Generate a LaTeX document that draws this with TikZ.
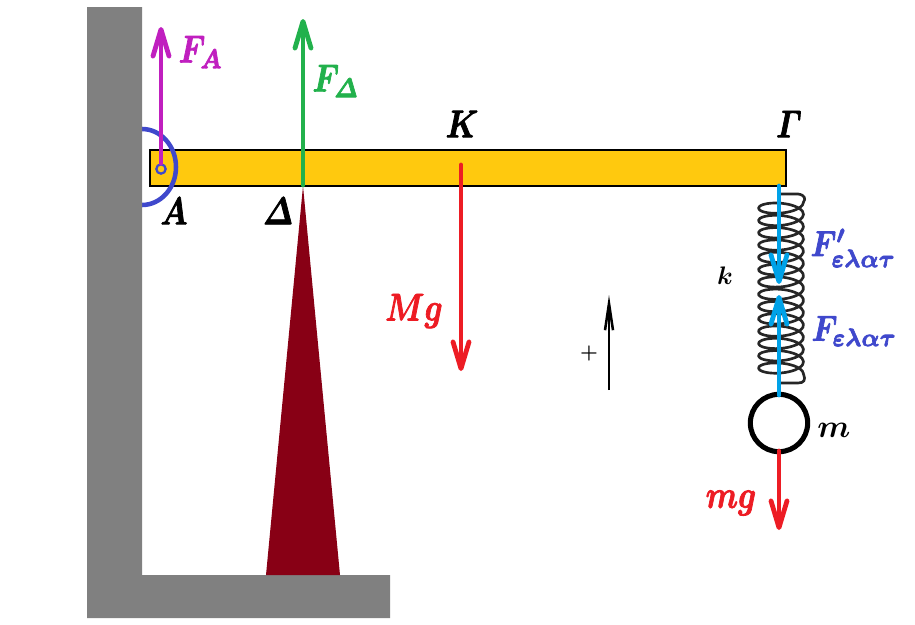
\documentclass[tikz,border=0pt]{standalone}
\usepackage{amsmath}
\usetikzlibrary{arrows.meta}
\definecolor{wallc}{RGB}{128,128,128}
\definecolor{beamc}{RGB}{255,201,14}
\definecolor{peak}{RGB}{136,0,21}
\definecolor{bluec}{RGB}{63,72,204}
\definecolor{purp}{RGB}{192,31,191}
\definecolor{gr}{RGB}{34,177,76}
\definecolor{redc}{RGB}{237,28,36}
\definecolor{cy}{RGB}{0,162,232}
\newcommand{\fatfont}{\mathversion{bold}\special{pdf:code 2 Tr 0.22 w}}
\tikzset{
  force/.style={line width=3.6pt,line cap=round,-{Straight Barb[length=20pt,width=12pt,round]}},
  lab/.style={inner sep=0pt,xscale=2.35,yscale=2.9,font=\fatfont},
  lab2/.style={inner sep=0pt,xscale=2.28,yscale=2.7,font=\fatfont},
}
\begin{document}
\begin{tikzpicture}[x=0.75pt,y=-0.75pt]
\useasboundingbox (0,0) rectangle (915,625);
% beam
\node[draw=black,fill=beamc,line width=0.9pt,minimum width=477pt,minimum height=27pt,inner sep=0pt] (beam) at (468,168) {};
% pin ring, partly behind the wall
\draw[bluec,line width=3.4pt] (142,167) ellipse (34 and 38);
% wall
\fill[wallc] (87,7) -- (142,7) -- (142,575) -- (390,575) -- (390,618) -- (87,618) -- cycle;
% support
\fill[peak] (303,186) -- (340,575) -- (266,575) -- cycle;
% spring
\coordinate (st) at (779,186);
\coordinate (sb) at (779,395);
\draw[black!85,line width=2pt,line join=round]
  (st) -- (779,194) -- (798,194) .. controls (805,195) and (806,199) .. (803.5,202)
  -- plot[smooth,samples=280,domain=0:14,variable=\t]
    ({781+22.5*cos(360*\t)},{202+12.3*\t+8*sin(360*\t)})
  .. controls (806,380) and (804,383) .. (798,383) -- (779,383) -- (sb);
% mass
\node[circle,draw=black,fill=white,line width=3.8pt,minimum size=43pt,inner sep=0pt] (mass) at (779,423) {};
% force anchors
\node[circle,draw=bluec,line width=1.7pt,minimum size=7pt,inner sep=0pt] (pin) at (161,169) {};
\coordinate (fa) at (161,27);
\coordinate (dbase) at (303,185);
\coordinate (dtip) at (303,19);
\coordinate (ks) at (461,165);
\coordinate (ke) at (461,371);
\coordinate (g1) at (779,186);
\coordinate (g2) at (779,284);
\coordinate (e1) at (779,395);
\coordinate (e2) at (779,295);
\coordinate (m1) at (779,451);
\coordinate (m2) at (779,530);
\coordinate (p1) at (609,390);
\coordinate (p2) at (609,295);
% forces
\draw[force,purp] (pin.north) -- (fa);
\draw[force,gr] (dbase) -- (dtip);
\draw[force,redc] (ks) -- (ke);
\draw[force,cy] (g1) -- (g2);
\draw[force,cy] (e1) -- (e2);
\draw[force,redc] (m1) -- (m2);
\draw[black,line width=1.9pt,-{Straight Barb[length=20pt,width=6pt]}] (p1) -- (p2);
% labels
\node[lab,text=purp] (lfa) at (201,52) {$F_{A}$};
\node[lab,text=gr] (lfd) at (336,81) {$F_{\varDelta}$};
\node[lab] (lk) at (462,124) {$K$};
\node[lab] (lg) at (789,124) {$\varGamma$};
\node[lab] (la) at (174,211) {$A$};
\node[lab] (ld) at (278,211) {$\varDelta$};
\node[lab,text=redc] (lmg) at (414,311) {$Mg$};
\node[lab,text=redc] (lsg) at (731,503) {$mg$};
\node[inner sep=0pt,scale=2.4,font=\mathversion{bold}] (lm) at (834,430) {$m$};
\node[inner sep=0pt,scale=1.9,font=\mathversion{bold}] (lkk) at (725,276) {$k$};
\node[inner sep=0pt,scale=1.5,font=\mathversion{bold}] (lp) at (589,353) {$+$};
\node[lab2,text=bluec,anchor=west] (lf1) at (810,248) {$F'_{\varepsilon\lambda\alpha\tau}$};
\node[lab2,text=bluec,anchor=west] (lf2) at (811,331) {$F_{\varepsilon\lambda\alpha\tau}$};
\end{tikzpicture}
\end{document}
